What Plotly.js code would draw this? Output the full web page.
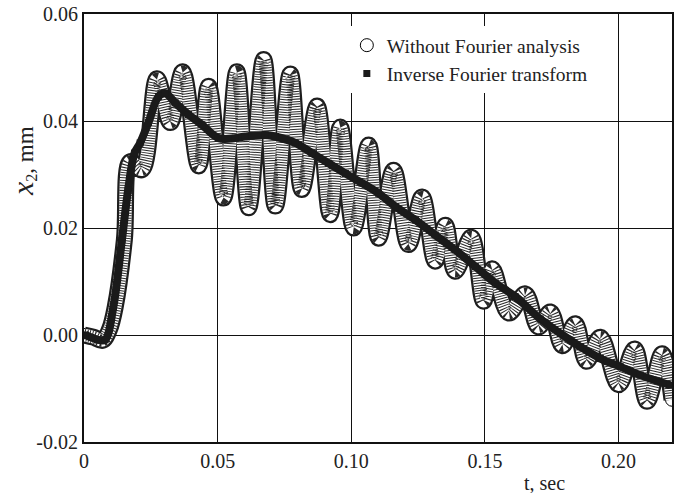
<!DOCTYPE html>
<html>
<head>
<meta charset="utf-8">
<script src="https://cdn.plot.ly/plotly-3.0.1.min.js"></script>
<style>html,body{margin:0;padding:0;background:#fff}</style>
</head>
<body>
<div id="chart" style="width:674px;height:493px"></div>
<script>
// Raw displacement response x2 (mm) at its turning points, time in seconds
const rawTime = [0.0000, 0.0035, 0.0070, 0.0095, 0.0117, 0.0151, 0.0173, 0.0217, 0.0273, 0.0323,
  0.0369, 0.0429, 0.0466, 0.0522, 0.0572, 0.0616, 0.0672, 0.0716, 0.0772, 0.0815,
  0.0872, 0.0921, 0.0959, 0.1009, 0.1065, 0.1102, 0.1158, 0.1214, 0.1265, 0.1314,
  0.1352, 0.1389, 0.1449, 0.1495, 0.1527, 0.1589, 0.1651, 0.1700, 0.1745, 0.1790,
  0.1838, 0.1880, 0.1932, 0.2000, 0.2060, 0.2107, 0.2163, 0.2200];
const rawDisp = [0.0000, -0.0004, -0.0010, 0.0010, 0.0053, 0.0178, 0.0324, 0.0309, 0.0479, 0.0397,
  0.0492, 0.0316, 0.0465, 0.0256, 0.0492, 0.0238, 0.0515, 0.0241, 0.0488, 0.0272,
  0.0428, 0.0225, 0.0389, 0.0200, 0.0355, 0.0181, 0.0308, 0.0169, 0.0258, 0.0138,
  0.0205, 0.0119, 0.0183, 0.0063, 0.0124, 0.0041, 0.0077, 0.0015, 0.0043, -0.0020,
  0.0021, -0.0049, -0.0004, -0.0093, -0.0026, -0.0124, -0.0035, -0.0121];

// Response rebuilt by the inverse Fourier transform
const ifftTime = [0.0005, 0.0053, 0.0079, 0.0110, 0.0142, 0.0165, 0.0189, 0.0210, 0.0241, 0.0279,
  0.0304, 0.0341, 0.0391, 0.0441, 0.0503, 0.0566, 0.0603, 0.0678, 0.0716, 0.0790,
  0.0853, 0.0915, 0.0978, 0.1040, 0.1102, 0.1165, 0.1240, 0.1314, 0.1389, 0.1464,
  0.1539, 0.1613, 0.1707, 0.1782, 0.1857, 0.1932, 0.2006, 0.2081, 0.2194];
const ifftDisp = [0.0000, -0.0009, -0.0009, 0.0053, 0.0178, 0.0271, 0.0340, 0.0359, 0.0397, 0.0446,
  0.0452, 0.0434, 0.0412, 0.0393, 0.0368, 0.0368, 0.0371, 0.0374, 0.0371, 0.0359,
  0.0340, 0.0321, 0.0302, 0.0284, 0.0265, 0.0240, 0.0215, 0.0187, 0.0159, 0.0128,
  0.0097, 0.0072, 0.0030, 0.0003, -0.0022, -0.0044, -0.0059, -0.0075, -0.0094];

const seriesNames = ['Without Fourier analysis', 'Inverse Fourier transform'];
const xTickVals = [0, 0.05, 0.10, 0.15, 0.20];
const xTickText = ['0', '0.05', '0.10', '0.15', '0.20'];
const yTickVals = [-0.02, 0, 0.02, 0.04, 0.06];
const yTickText = ['-0.02', '0.00', '0.02', '0.04', '0.06'];
const xTitle = 't, sec';
const yTitle = '<i><span style="font-size:30px">x</span></i><sub>2</sub>, mm';

const serif = 'Liberation Serif, Times New Roman, serif';
const ink = '#222';

// shared line geometry for the ring band
const band = {shape: 'spline', smoothing: 1};

const traces = [
  // raw samples: ring markers (legend entry), sitting under the ring band
  {x: rawTime, y: rawDisp, mode: 'markers', name: seriesNames[0],
   marker: {symbol: 'circle', size: 13, color: '#fff', line: {color: '#000', width: 1}},
   hoverinfo: 'skip'},
  // band of stacked rings: dark rim, white core, fine transverse hatching
  {x: rawTime, y: rawDisp, mode: 'lines', showlegend: false, hoverinfo: 'skip',
   line: Object.assign({width: 17, color: '#1e1e1e'}, band)},
  {x: rawTime, y: rawDisp, mode: 'lines', showlegend: false, hoverinfo: 'skip',
   line: Object.assign({width: 12.5, color: '#ffffff'}, band)},
  {x: rawTime, y: rawDisp, mode: 'lines', showlegend: false, hoverinfo: 'skip',
   line: Object.assign({width: 12.5, color: '#2a2a2a', dash: '1px,1.5px'}, band)},
  // inverse Fourier transform: heavy black curve
  {x: ifftTime, y: ifftDisp, mode: 'lines', showlegend: false, hoverinfo: 'skip',
   line: {shape: 'spline', smoothing: 1, width: 8, color: '#1a1a1a'}},
  {x: ifftTime, y: ifftDisp, mode: 'markers', name: seriesNames[1],
   marker: {symbol: 'square', size: 7, color: '#1a1a1a'}, hoverinfo: 'skip'}
];

const layout = {
  width: 674, height: 493,
  margin: {l: 84, r: 2, t: 14, b: 51},
  paper_bgcolor: '#fff', plot_bgcolor: '#fff',
  font: {family: serif, size: 20, color: ink},
  showlegend: true,
  legend: {x: 0.447, y: 0.972, xanchor: 'left', yanchor: 'top',
           bgcolor: '#fff', borderwidth: 0, font: {family: serif, size: 19.5, color: ink},
           itemwidth: 30},
  xaxis: {range: [0, 0.22], tickvals: xTickVals, ticktext: xTickText, ticks: '',
          showgrid: true, gridcolor: '#111', gridwidth: 1, zeroline: false,
          showline: true, mirror: true, linecolor: '#111', linewidth: 2,
          tickfont: {family: serif, size: 20, color: ink}},
  yaxis: {range: [-0.02, 0.06], tickvals: yTickVals, ticktext: yTickText, ticks: '',
          showgrid: true, gridcolor: '#111', gridwidth: 1, zeroline: false,
          showline: true, mirror: true, linecolor: '#111', linewidth: 2,
          tickfont: {family: serif, size: 20, color: ink}},
  annotations: [
    {text: xTitle, xref: 'paper', yref: 'paper', x: 0.784, y: -0.096,
     xanchor: 'center', yanchor: 'middle', showarrow: false,
     font: {family: serif, size: 20, color: ink}},
    {text: yTitle, xref: 'paper', yref: 'paper', x: -0.104, y: 0.656,
     xanchor: 'center', yanchor: 'middle', showarrow: false, textangle: -90,
     font: {family: serif, size: 23, color: ink}}
  ]
};

Plotly.newPlot('chart', traces, layout, {displayModeBar: false, staticPlot: true});
</script>
</body>
</html>
